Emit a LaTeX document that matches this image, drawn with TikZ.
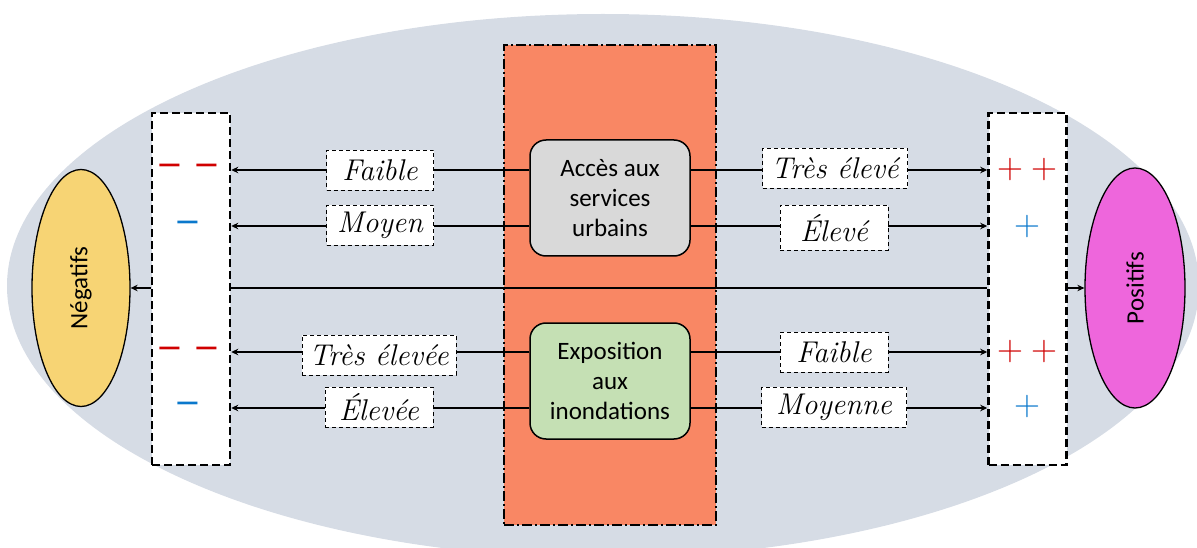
\documentclass[tikz,border=0pt]{standalone}
\usepackage{fontspec}
\newfontfamily\calibri{Carlito}
\newfontfamily\dejavu{DejaVu Sans}
\usetikzlibrary{arrows.meta,shapes.geometric}
\definecolor{bgc}{HTML}{D6DCE5}
\definecolor{orangec}{HTML}{F98764}
\definecolor{grayc}{HTML}{D9D9D9}
\definecolor{greenc}{HTML}{C5E0B4}
\definecolor{yellowc}{HTML}{F7D474}
\definecolor{magentac}{HTML}{EE66DC}
\definecolor{redc}{HTML}{D00000}
\definecolor{bluec}{HTML}{0A78CC}
\begin{document}
\begin{tikzpicture}[x=1pt,y=-1pt,
  zonebox/.style={draw, fill=orangec, line width=1.3pt, dash pattern=on 10pt off 3pt on 2pt off 3pt, minimum width=212pt, minimum height=480pt, inner sep=0pt},
  cbox/.style={draw, line width=1.5pt, rounded corners=16pt, minimum width=160pt, minimum height=116pt, align=center, inner sep=0pt, font=\calibri\fontsize{25}{30}\selectfont},
  sidebox/.style={draw, fill=white, line width=2.5pt, dash pattern=on 8pt off 4pt, minimum width=78pt, minimum height=352pt, inner sep=0pt},
  result/.style={draw, line width=1.3pt, ellipse, inner sep=0pt, font=\calibri\fontsize{25}{28}\selectfont},
  lab/.style={draw, fill=white, line width=0.8pt, dash pattern=on 4pt off 3pt, minimum height=40pt, minimum width=107pt, inner xsep=3pt, inner ysep=0pt, font=\fontsize{30}{32}\selectfont\itshape},
  arr/.style={line width=1.3pt, -{Stealth[length=7pt,width=6.5pt]}},
  minus/.style={inner sep=0pt, font=\dejavu\fontsize{32}{32}\selectfont},
  plus/.style={inner sep=0pt, font=\rmfamily\fontsize{36}{36}\selectfont}
]
\useasboundingbox (0,0) rectangle (1197,548);
\clip (0,0) rectangle (1197,548);
\fill[bgc] (603,286) ellipse [x radius=596, y radius=272];

\node[zonebox] (zone) at (610,285) {};
\node[sidebox] (negbox) at (191,289) {};
\node[sidebox] (posbox) at (1027.5,289) {};

\node[cbox, fill=grayc] (acc) at (610,198) {Accès aux\\services\\urbains};
\node[cbox, fill=greenc] (exp) at (610,381) {Exposition\\aux\\inondations};

\node[result, fill=yellowc, minimum width=98pt, minimum height=237pt] (neg) at (81,288) {\rotatebox{90}{Négatifs}};
\node[result, fill=magentac, minimum width=100pt, minimum height=240pt] (pos) at (1135,288) {\rotatebox{90}{Positifs}};

\coordinate (r1) at (0,170);
\coordinate (r2) at (0,226);
\coordinate (mid) at (0,288);
\coordinate (r3) at (0,352);
\coordinate (r4) at (0,408);

% connectors
\draw[arr] (acc.west |- r1) -- (negbox.east |- r1);
\draw[arr] (acc.west |- r2) -- (negbox.east |- r2);
\draw[arr] (acc.east |- r1) -- (posbox.west |- r1);
\draw[arr] (acc.east |- r2) -- (posbox.west |- r2);
\draw[arr] (exp.west |- r3) -- (negbox.east |- r3);
\draw[arr] (exp.west |- r4) -- (negbox.east |- r4);
\draw[arr] (exp.east |- r3) -- (posbox.west |- r3);
\draw[arr] (exp.east |- r4) -- (posbox.west |- r4);
\draw[line width=2.4pt] (negbox.east |- mid) -- (posbox.west |- mid);
\draw[arr] (negbox.west |- mid) -- (neg.east);
\draw[arr] (posbox.east |- mid) -- (pos.west);

% labels
\node[lab] (l1) at (380,170) {Faible};
\node[lab] (l2) at (380,225) {Moyen};
\node[lab, minimum width=154pt] (l3) at (379,355) {Très élevée};
\node[lab, minimum width=108pt] (l4) at (379,407) {Élevée};
\node[lab, minimum width=145pt] (r1l) at (835,168) {Très élevé};
\node[lab, minimum width=108pt, minimum height=45pt] (r2l) at (834,228) {Élevé};
\node[lab, minimum width=108pt] (r3l) at (834,352) {Faible};
\node[lab, minimum width=145pt] (r4l) at (834,407) {Moyenne};

% signs
\node[minus, text=redc] (s1) at (188.5,170) {−\hspace{11pt}−};
\node[minus, text=bluec] (s2) at (187.5,227) {−};
\node[minus, text=redc] (s3) at (188.5,353) {−\hspace{11pt}−};
\node[minus, text=bluec] (s4) at (187.5,408) {−};
\node[plus, text=redc] (p1) at (1027.5,170) {+\hspace{8pt}+};
\node[plus, text=bluec] (p2) at (1027.5,227) {+};
\node[plus, text=redc] (p3) at (1027.5,352) {+\hspace{8pt}+};
\node[plus, text=bluec] (p4) at (1027.5,407) {+};
\end{tikzpicture}
\end{document}
